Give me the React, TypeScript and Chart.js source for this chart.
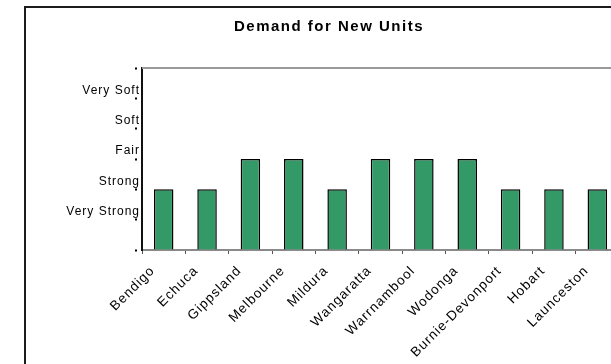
import React, { useEffect, useRef } from 'react';
import { Chart, registerables } from 'chart.js';

Chart.register(...registerables);

// Regions and their demand rating (1 = Very Strong ... 5 = Very Soft)
const categories = [
  'Bendigo',
  'Echuca',
  'Gippsland',
  'Melbourne',
  'Mildura',
  'Wangaratta',
  'Warrnambool',
  'Wodonga',
  'Burnie-Devonport',
  'Hobart',
  'Launceston',
];
const demand = [2, 2, 3, 3, 2, 3, 3, 3, 2, 2, 2];
const ratingLabels = ['', 'Very Strong', 'Strong', 'Fair', 'Soft', 'Very Soft', ''];
const chartTitle = 'Demand for New Units';

const FONT = '"Liberation Sans", Arial, Helvetica, sans-serif';
const BAR_GREEN = '#339966';

export default function App() {
  const canvasRef = useRef<HTMLCanvasElement>(null);

  useEffect(() => {
    const canvas = canvasRef.current;
    if (!canvas) return;

    // Slightly spaced lettering for all canvas text
    const letterSpacing = {
      id: 'letterSpacing',
      beforeDraw(chart: any) {
        chart.ctx.letterSpacing = '1px';
      },
    };

    // Light grey top and right edges of the plot area
    const plotFrame = {
      id: 'plotFrame',
      beforeDatasetsDraw(chart: any) {
        const { ctx, chartArea } = chart;
        ctx.save();
        ctx.strokeStyle = '#9a9a9a';
        ctx.lineWidth = 2;
        ctx.beginPath();
        ctx.moveTo(chartArea.left, chartArea.top);
        ctx.lineTo(chartArea.right, chartArea.top);
        ctx.lineTo(chartArea.right, chartArea.bottom);
        ctx.stroke();
        ctx.restore();
      },
    };

    // Bold heading centred over the chart frame
    const heading = {
      id: 'heading',
      afterDraw(chart: any) {
        const { ctx } = chart;
        ctx.save();
        ctx.font = `bold 15px ${FONT}`;
        ctx.letterSpacing = '1.5px';
        ctx.fillStyle = '#000';
        ctx.textAlign = 'center';
        ctx.textBaseline = 'middle';
        ctx.fillText(chartTitle, 329, 27);
        ctx.restore();
      },
    };

    const chart = new Chart(canvas, {
      type: 'bar',
      data: {
        labels: categories,
        datasets: [
          {
            data: demand,
            backgroundColor: BAR_GREEN,
            borderColor: '#000',
            borderWidth: 1.5,
            barPercentage: 0.9,
            categoryPercentage: 0.5,
          },
        ],
      },
      options: {
        animation: false,
        responsive: false,
        devicePixelRatio: 1,
        layout: { padding: { top: 68, right: 41, bottom: 0, left: 0 } },
        plugins: {
          legend: { display: false },
          title: { display: false },
          tooltip: { enabled: false },
        },
        scales: {
          x: {
            grid: {
              display: true,
              drawOnChartArea: false,
              drawTicks: true,
              tickLength: 4,
              tickColor: '#555',
              tickWidth: 1,
            },
            border: { display: true, color: '#8a8a8a', width: 2 },
            ticks: {
              minRotation: 45,
              maxRotation: 45,
              autoSkip: false,
              padding: 9,
              labelOffset: -11,
              color: '#000',
              font: { family: FONT, size: 13.5 },
            },
            afterFit(scale: any) {
              scale.height = 114;
            },
          },
          y: {
            min: 0,
            max: 6,
            grid: {
              display: true,
              drawOnChartArea: false,
              drawTicks: true,
              tickLength: 7,
              tickWidth: 2,
              tickColor: '#000',
              tickBorderDash: [2, 10],
            },
            border: { display: true, color: '#111', width: 2 },
            ticks: {
              stepSize: 1,
              autoSkip: false,
              padding: -5,
              labelOffset: -8,
              color: '#000',
              font: { family: FONT, size: 12 },
              callback: (value: any) => ratingLabels[Number(value)] ?? '',
            },
            afterFit(scale: any) {
              scale.width = 142;
            },
          },
        },
      },
      plugins: [letterSpacing, plotFrame, heading],
    });

    return () => chart.destroy();
  }, []);

  return (
    <div
      style={{
        position: 'fixed',
        left: 0,
        top: 0,
        width: '100vw',
        height: '100vh',
        overflow: 'hidden',
        background: '#fff',
      }}
    >
      <div
        style={{
          position: 'absolute',
          left: 24,
          top: 6,
          width: 700,
          height: 500,
          borderLeft: '2px solid #1c1c1c',
          borderTop: '2px solid #1c1c1c',
        }}
      />
      <canvas
        ref={canvasRef}
        width={660}
        height={364}
        style={{ position: 'absolute', left: 0, top: 0, width: 660, height: 364 }}
      />
    </div>
  );
}
